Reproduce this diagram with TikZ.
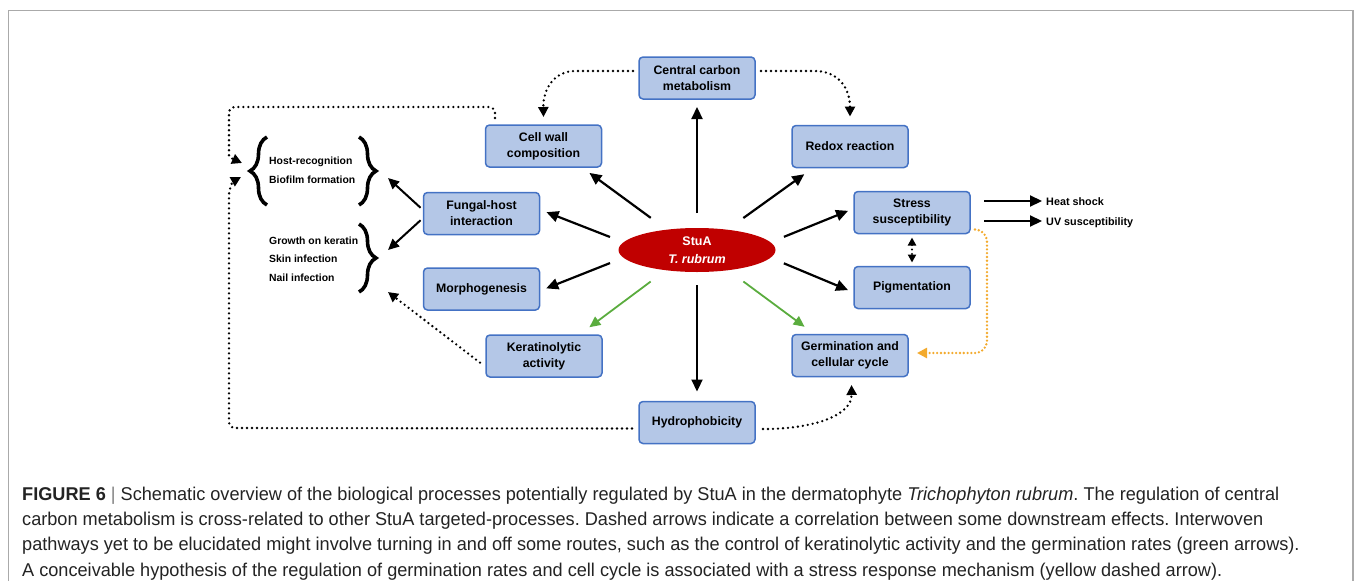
\documentclass[tikz,border=0pt]{standalone}
\usepackage{fontspec}
\setmainfont{Liberation Sans}
\newfontfamily\capfont{Liberation Sans}
\usetikzlibrary{arrows.meta,decorations.pathreplacing,shapes.geometric}
\definecolor{boxfill}{RGB}{180,199,231}
\definecolor{boxdraw}{RGB}{68,114,196}
\definecolor{stured}{RGB}{192,0,0}
\definecolor{grn}{RGB}{90,172,62}
\definecolor{ylw}{RGB}{243,170,45}
\definecolor{framec}{RGB}{170,170,170}
\definecolor{capt}{RGB}{35,35,35}
\newsavebox\capbox
\tikzset{
  proc/.style={draw=boxdraw, fill=boxfill, line width=1.5pt, rounded corners=4pt,
    minimum width=116pt, minimum height=42pt, inner sep=0pt, outer sep=0pt,
    align=center, font=\bfseries\fontsize{12.3}{16}\selectfont, text=black},
  arr/.style={line width=2.2pt, -{Triangle[length=12pt,width=11pt]}},
  garr/.style={line width=1.8pt, draw=grn, -{Triangle[length=11pt,width=10pt]}, color=grn},
  dotln/.style={line width=2.6pt, line cap=round, dash pattern=on 0pt off 5pt},
  dotarr/.style={dotln, -{Triangle[length=10pt,width=10pt]}},
  side/.style={font=\bfseries\fontsize{10.4}{18.7}\selectfont, align=left, inner sep=0pt, anchor=west},
  lbl/.style={font=\bfseries\fontsize{10.8}{13}\selectfont, inner sep=0pt, anchor=west, text height=8pt, text depth=0pt},
  brc/.style={decorate, decoration={brace, amplitude=17pt}, line width=3.6pt},
  captext/.style={font=\capfont\fontsize{18.5}{25}\selectfont\frenchspacing, text=capt, inner sep=0pt, anchor=base west},
}
\begin{document}
\sbox\capbox{\capfont\fontsize{18.5}{25}\selectfont\frenchspacing\textbf{FIGURE 6} | Schematic overview of the biological processes potentially regulated by StuA in the dermatophyte \textit{Trichophyton rubrum}. The regulation of central}%
\pgfmathsetmacro\capsx{1257/\the\wd\capbox}%
\begin{tikzpicture}[x=1pt,y=-1pt]
\useasboundingbox (0,0) rectangle (1354,581);
% frame
\draw[framec, line width=1.5pt] (8.5,581) -- (8.5,10.5) -- (1353,10.5) -- (1353,581);

% process boxes
\node[proc] (cc)     at (697,78)    {Central carbon\\metabolism};
\node[proc] (redox)  at (850,146.5) {Redox reaction};
\node[proc] (cw)     at (543.5,146) {Cell wall\\composition};
\node[proc] (fh)     at (481.5,213.5) {Fungal-host\\interaction};
\node[proc] (morph)  at (481.5,289) {Morphogenesis};
\node[proc] (kerat)  at (544,356)   {Keratinolytic\\activity};
\node[proc] (hydro)  at (697,422.5) {Hydrophobicity};
\node[proc] (germ)   at (850,355.5) {Germination and\\cellular cycle};
\node[proc] (stress) at (912,212.5) {Stress\\susceptibility};
\node[proc] (pig)    at (912,287.5) {Pigmentation};

% central ellipse
\node[ellipse, fill=stured, minimum width=157pt, minimum height=44pt, inner sep=0pt, outer sep=0pt,
  text=white, align=center, font=\bfseries\fontsize{12.5}{17.6}\selectfont] (stua) at (697,250)
  {StuA\\\textit{T. rubrum}};

% side texts
\node[side] (hostgrp) at (269,170) {Host-recognition\\Biofilm formation};
\node[side] (growgrp) at (269,259) {Growth on keratin\\Skin infection\\Nail infection};
\node[lbl] (heat) at (1046,201) {Heat shock};
\node[lbl] (uv)   at (1046,221) {UV susceptibility};

% braces
\draw[brc] (267,205) -- (267,137);
\draw[brc] (359,137) -- (359,205);
\draw[brc] (359,224) -- (359,292);
\coordinate (hosttip) at (388,178);
\coordinate (growtip) at (388,250);
\coordinate (growlow) at (388,292);
\coordinate (hostin1) at (242,163);
\coordinate (hostin2) at (241,177);

% radial arrows from StuA
\draw[arr, shorten <=15pt, shorten >=8pt] (stua.north) -- (cc.south);
\draw[arr, shorten <=13pt, shorten >=10pt] (stua.south) -- (hydro.north);
\draw[arr, shorten <=20pt, shorten >=10pt] (stua.146) -- (cw.-29);
\draw[arr, shorten <=20pt, shorten >=11.5pt] (stua.34) -- (redox.210);
\draw[arr, shorten <=14.5pt, shorten >=7.5pt] (stua.174) -- (fh.4);
\draw[arr, shorten <=14.5pt, shorten >=7.2pt] (stua.186) -- (morph.-2);
\draw[arr, shorten <=14.5pt, shorten >=6.4pt] (stua.6) -- (stress.176);
\draw[arr, shorten <=14.5pt, shorten >=6.5pt] (stua.-6) -- (pig.185);
\draw[garr, shorten <=19pt, shorten >=13pt] (stua.213) -- (kerat.31);
\draw[garr, shorten <=19pt, shorten >=13pt] (stua.-33) -- (germ.149);

% fungal-host to groups
\draw[arr, line width=2pt, -{Triangle[length=11pt,width=10pt]}, shorten <=4pt] (fh.177) -- (hosttip);
\draw[arr, line width=2pt, -{Triangle[length=11pt,width=10pt]}, shorten <=4pt] (fh.184) -- (growtip);

% stress outputs
\draw[arr, line width=2.1pt, -{Triangle[length=12pt,width=11pt]}] ([shift={(14,-11.5)}]stress.east) -- ([xshift=-4pt]heat.west);
\draw[arr, line width=2.1pt, -{Triangle[length=12pt,width=11pt]}] ([shift={(14,8.5)}]stress.east) -- ([xshift=-4pt]uv.west);

% dotted connectors
\draw[dotarr] ([shift={(-6,-7)}]cc.west) -- (575,71) .. controls (555,71) and (543,88) .. ([shift={(0,-8)}]cw.north);
\draw[dotarr] ([shift={(6,-7)}]cc.east) -- (815,71) .. controls (838,71) and (850,88) .. ([shift={(0,-9)}]redox.north);
\draw[dotarr, rounded corners=6pt] ([shift={(-48.5,-7)}]cw.north) -- (495,107) -- (229,107) -- (229,150)
   .. controls (229,157) and (233,159) .. (hostin1);
\draw[dotarr, rounded corners=6pt] ([shift={(-7,6)}]hydro.west) -- (229,428) -- (229,200)
   .. controls (229,191) and (232,182) .. (hostin2);
\draw[dotarr] ([shift={(8,6.5)}]hydro.east) .. controls (815,429) and (852,415) .. ([shift={(1.5,8.5)}]germ.south);
\draw[dotarr, shorten <=7.6pt] (kerat.191) -- (growlow);
\draw[line width=2.3pt, line cap=round, dash pattern=on 0pt off 4.5pt,
   {Triangle[length=8pt,width=8pt]}-{Triangle[length=8pt,width=8pt]}, shorten <=4pt, shorten >=4pt]
   (stress.south) -- (pig.north);
\draw[draw=ylw, color=ylw, line width=2.6pt, line cap=round, dash pattern=on 0pt off 3.8pt,
   rounded corners=12pt, -{Triangle[length=10pt,width=10pt]}]
   ([shift={(5,17)}]stress.east) -- (987,229.5) -- (987,353) -- ([shift={(9,-2.5)}]germ.east);

% caption (one common horizontal scale, fitted to the first line)
\node[captext] (cap1) at (22,500) {\scalebox{\capsx}[1]{\textbf{FIGURE 6} {\color{gray}|} Schematic overview of the biological processes potentially regulated by StuA in the dermatophyte \textit{Trichophyton rubrum}. The regulation of central}};
\node[captext] (cap2) at (22,525.3) {\scalebox{\capsx}[1]{carbon metabolism is cross-related to other StuA targeted-processes. Dashed arrows indicate a correlation between some downstream effects. Interwoven}};
\node[captext] (cap3) at (22,550.6) {\scalebox{\capsx}[1]{pathways yet to be elucidated might involve turning in and off some routes, such as the control of keratinolytic activity and the germination rates (green arrows).}};
\node[captext] (cap4) at (22,576) {\scalebox{\capsx}[1]{A conceivable hypothesis of the regulation of germination rates and cell cycle is associated with a stress response mechanism (yellow dashed arrow).}};
\end{tikzpicture}
\end{document}
